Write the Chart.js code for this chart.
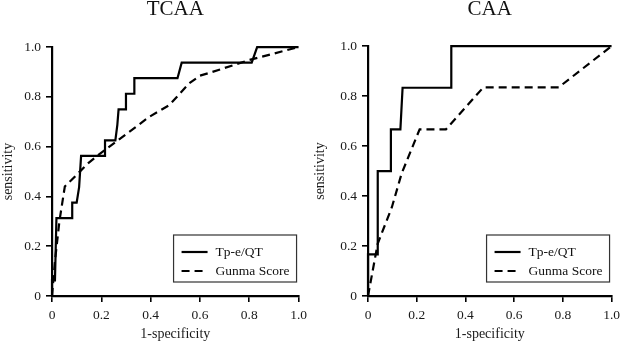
<!DOCTYPE html>
<html>
<head>
<meta charset="utf-8">
<script src="https://cdn.jsdelivr.net/npm/chart.js@4/dist/chart.umd.min.js"></script>
<style>
  body { margin: 0; background: #fff; }
  #wrap { position: relative; width: 625px; height: 343px; }
  canvas { position: absolute; top: 0; }
</style>
</head>
<body>
<div id="wrap">
  <canvas id="left" width="312" height="343" style="left:0"></canvas>
  <canvas id="right" width="313" height="343" style="left:312px"></canvas>
</div>
<script>
// ******************************************************** DATA

var seriesNames = ["Tp-e/QT", "Gunma Score"];
var tickValues = [0, 0.2, 0.4, 0.6, 0.8, 1.0];

// TCAA panel
var tcaaTpeX = [0, 0, 0.012, 0.018, 0.082, 0.082, 0.1, 0.11, 0.118, 0.215, 0.215, 0.257, 0.265, 0.27, 0.30, 0.30, 0.334, 0.334, 0.509, 0.526, 0.81, 0.832, 1];
var tcaaTpeY = [0, 0.0625, 0.0625, 0.3125, 0.3125, 0.375, 0.375, 0.4375, 0.5625, 0.5625, 0.625, 0.625, 0.6875, 0.75, 0.75, 0.8125, 0.8125, 0.875, 0.875, 0.9375, 0.9375, 1, 1];
var tcaaGunmaX = [0, 0.012, 0.03, 0.052, 0.079, 0.146, 0.187, 0.26, 0.395, 0.476, 0.556, 0.6, 0.65, 0.8, 1];
var tcaaGunmaY = [0, 0.14, 0.3, 0.44, 0.466, 0.533, 0.566, 0.62, 0.72, 0.767, 0.854, 0.885, 0.9, 0.948, 1];

// CAA panel
var caaTpeX = [0, 0, 0.04, 0.04, 0.094, 0.094, 0.133, 0.142, 0.342, 0.342, 1];
var caaTpeY = [0, 0.1667, 0.1667, 0.5, 0.5, 0.6667, 0.6667, 0.8333, 0.8333, 1, 1];
var caaGunmaX = [0, 0.04, 0.098, 0.138, 0.212, 0.32, 0.474, 0.783, 1];
var caaGunmaY = [0, 0.21, 0.355, 0.49, 0.667, 0.667, 0.835, 0.835, 1];

// ******************************************************** HELPERS

var SERIF = "'Liberation Serif', 'Times New Roman', serif";

function pts(xs, ys) {
  return xs.map(function (x, i) { return { x: x, y: ys[i] }; });
}

function fmt(v) {
  return v === 0 ? "0" : v.toFixed(1);
}

// legend box drawn inside the plot, lower right
var boxLegend = {
  id: 'boxLegend',
  afterDraw: function (chart) {
    var ctx = chart.ctx;
    var a = chart.chartArea;
    var w = 123, h = 47;
    var x0 = a.right - w - 2, y0 = a.bottom - h - 14;
    ctx.save();
    ctx.strokeStyle = '#333';
    ctx.lineWidth = 1.2;
    ctx.strokeRect(x0, y0, w, h);
    ctx.font = "13.5px " + SERIF;
    ctx.fillStyle = '#111';
    ctx.textBaseline = 'middle';
    chart.data.datasets.forEach(function (ds, i) {
      var yy = y0 + 17 + i * 19;
      ctx.beginPath();
      ctx.setLineDash(ds.borderDash || []);
      ctx.lineWidth = 2.2;
      ctx.strokeStyle = '#000';
      ctx.moveTo(x0 + 8, yy);
      ctx.lineTo(x0 + 34, yy);
      ctx.stroke();
      ctx.setLineDash([]);
      ctx.fillText(ds.label, x0 + 42, yy);
    });
    ctx.restore();
  }
};

function axis(titleText, fitFn) {
  return {
    type: 'linear',
    min: 0,
    max: 1,
    afterBuildTicks: function (s) { s.ticks = tickValues.map(function (v) { return { value: v }; }); },
    afterFit: fitFn,
    grid: { display: true, drawOnChartArea: false, drawTicks: true, tickLength: 6, color: '#000', lineWidth: 1.6 },
    border: { display: true, color: '#000', width: 2.2 },
    ticks: {
      color: '#1a1a1a',
      padding: 5,
      font: { family: SERIF, size: 13.5 },
      callback: function (v) { return fmt(v); }
    },
    title: {
      display: true,
      text: titleText,
      color: '#1a1a1a',
      padding: 0,
      font: { family: SERIF, size: 14 }
    }
  };
}

function makeChart(id, titleText, tpe, gunma, yWidth, rightPad, titleGap) {
  var ctx = document.getElementById(id).getContext('2d');
  return new Chart(ctx, {
    type: 'scatter',
    data: {
      datasets: [{
        label: seriesNames[0],
        data: tpe,
        showLine: true,
        borderColor: '#000',
        borderWidth: 2.2,
        pointRadius: 0,
        tension: 0,
        clip: false
      }, {
        label: seriesNames[1],
        data: gunma,
        showLine: true,
        borderColor: '#000',
        borderWidth: 2.2,
        borderDash: [8, 5],
        pointRadius: 0,
        tension: 0,
        clip: false
      }]
    },
    options: {
      responsive: false,
      animation: false,
      layout: { padding: { left: 0, right: rightPad, top: 0, bottom: 0 } },
      plugins: {
        legend: { display: false },
        tooltip: { enabled: false },
        title: {
          display: true,
          fullSize: false,
          text: titleText,
          color: '#111',
          font: { family: SERIF, size: 21, weight: 'normal', lineHeight: 0.86 },
          padding: { top: 0, bottom: titleGap }
        }
      },
      scales: {
        x: axis('1-specificity', function (s) { s.height = 47; }),
        y: axis('sensitivity', function (s) { s.width = yWidth; })
      }
    },
    plugins: [boxLegend]
  });
}

// ******************************************************** CHARTS

makeChart('left', 'TCAA', pts(tcaaTpeX, tcaaTpeY), pts(tcaaGunmaX, tcaaGunmaY), 52, 12, 29);
makeChart('right', 'CAA', pts(caaTpeX, caaTpeY), pts(caaGunmaX, caaGunmaY), 56, 9, 28);
</script>
</body>
</html>
